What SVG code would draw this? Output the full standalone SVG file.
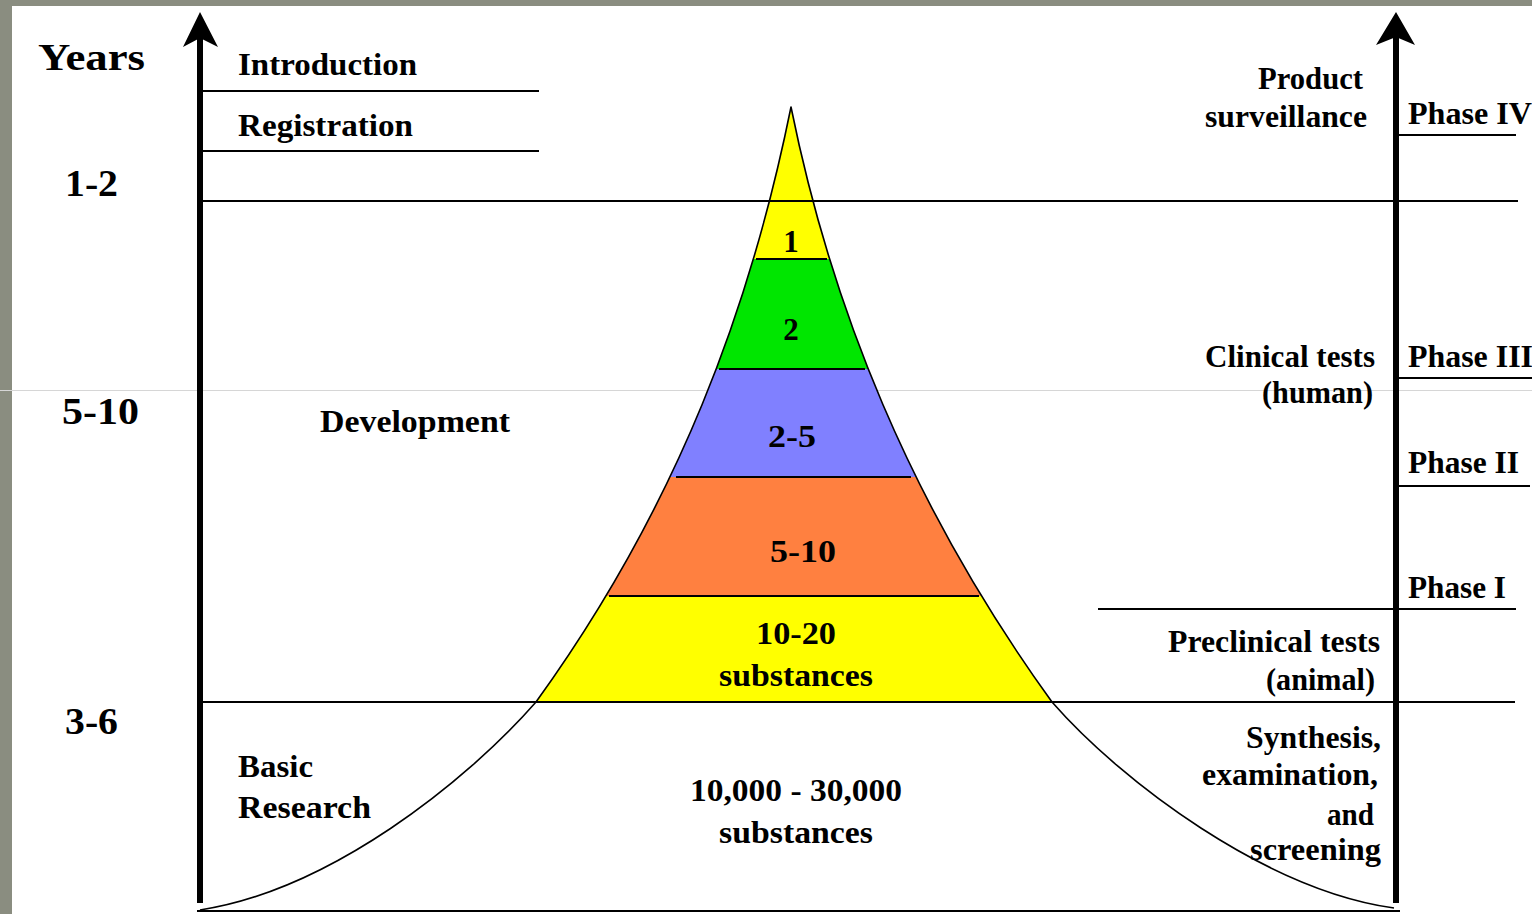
<svg xmlns="http://www.w3.org/2000/svg" width="1532" height="914" viewBox="0 0 1532 914">
  <defs>
    <style>
      .t { font-family: "Liberation Serif", "Times New Roman", serif; font-weight: bold; font-size: 31px; fill: #000; }
      .yr { font-size: 38px; }
      .end { text-anchor: end; }
      .mid { text-anchor: middle; }
      .rule { stroke: #000; stroke-width: 2; fill: none; }
      .band-edge { stroke: #000; stroke-width: 2; }
      .axis { stroke: #000; stroke-width: 6; fill: none; }
      .head { fill: #000; }
      .outline { fill: none; stroke: #000; stroke-width: 1.6; stroke-linejoin: round; }
    </style>
    <!-- upper part of the funnel, used to clip the coloured bands -->
    <clipPath id="funnel-clip">
      <path d="M791,107 C751,305 679,504 536,702 L1052,702 C909,504 831,305 791,107 Z"/>
    </clipPath>
  </defs>

  <!-- frame -->
  <rect x="0" y="0" width="1532" height="914" fill="#8a8d80"/>
  <rect x="12" y="6" width="1520" height="908" fill="#ffffff"/>
  <line x1="0" y1="390.5" x2="1532" y2="390.5" stroke="#d6d6d6" stroke-width="1"/>

  <!-- coloured stages of the funnel -->
  <g id="funnel">
    <g clip-path="url(#funnel-clip)">
      <rect x="500" y="100" width="600" height="159" fill="#ffff00"/>
      <rect x="500" y="259" width="600" height="110" fill="#00e600"/>
      <rect x="500" y="369" width="600" height="108" fill="#8080ff"/>
      <rect x="500" y="477" width="600" height="119" fill="#ff8040"/>
      <rect x="500" y="596" width="600" height="106" fill="#ffff00"/>
    </g>
    <line class="band-edge" x1="756" y1="259" x2="827" y2="259"/>
    <line class="band-edge" x1="719" y1="369" x2="865" y2="369"/>
    <line class="band-edge" x1="676" y1="477" x2="911" y2="477"/>
    <line class="band-edge" x1="609" y1="596" x2="979" y2="596"/>
    <path class="outline" d="M200,910 C330,890 466,782 536,702 C679,504 751,305 791,107 C831,305 909,504 1052,702 C1122,782 1266,890 1394,908"/>
  </g>

  <!-- horizontal rules -->
  <g id="rules">
    <line class="rule" x1="203" y1="91" x2="539" y2="91"/>
    <line class="rule" x1="203" y1="151" x2="539" y2="151"/>
    <line class="rule" x1="203" y1="201" x2="1518" y2="201"/>
    <line class="rule" x1="1398" y1="135" x2="1516" y2="135"/>
    <line class="rule" x1="1398" y1="378" x2="1532" y2="378"/>
    <line class="rule" x1="1398" y1="486" x2="1530" y2="486"/>
    <line class="rule" x1="1098" y1="609" x2="1516" y2="609"/>
    <line class="rule" x1="203" y1="702" x2="1515" y2="702"/>
    <line class="rule" x1="197" y1="911" x2="1400" y2="911"/>
  </g>

  <!-- time axes -->
  <g id="connectors">
    <line class="axis" x1="200" y1="30" x2="200" y2="903"/>
    <path class="head" d="M200,12 L218,47 L200,38 L183,47 Z"/>
    <line class="axis" x1="1396" y1="30" x2="1396" y2="903"/>
    <path class="head" d="M1396,12 L1415,45 L1396,37 L1376,45 Z"/>
  </g>

  <!-- year scale -->
  <g id="years">
    <text class="t yr" x="38" y="70" textLength="107" lengthAdjust="spacingAndGlyphs">Years</text>
    <text class="t yr" x="65" y="196" textLength="53" lengthAdjust="spacingAndGlyphs">1-2</text>
    <text class="t yr" x="62" y="424" textLength="77" lengthAdjust="spacingAndGlyphs">5-10</text>
    <text class="t yr" x="65" y="734" textLength="53" lengthAdjust="spacingAndGlyphs">3-6</text>
  </g>

  <!-- left side stages -->
  <g id="introduction"><text class="t" x="238" y="75" textLength="179" lengthAdjust="spacingAndGlyphs">Introduction</text></g>
  <g id="registration"><text class="t" x="238" y="136" textLength="175" lengthAdjust="spacingAndGlyphs">Registration</text></g>
  <g id="development"><text class="t" x="320" y="432" textLength="190" lengthAdjust="spacingAndGlyphs">Development</text></g>
  <g id="basic-research">
    <text class="t" x="238" y="777" textLength="75" lengthAdjust="spacingAndGlyphs">Basic</text>
    <text class="t" x="238" y="818" textLength="133" lengthAdjust="spacingAndGlyphs">Research</text>
  </g>

  <!-- substance counts inside the funnel -->
  <g id="count-1"><text class="t mid" x="791" y="252">1</text></g>
  <g id="count-2"><text class="t mid" x="791" y="340">2</text></g>
  <g id="count-2-5"><text class="t" x="768" y="447" textLength="48" lengthAdjust="spacingAndGlyphs">2-5</text></g>
  <g id="count-5-10"><text class="t" x="770" y="562" textLength="66" lengthAdjust="spacingAndGlyphs">5-10</text></g>
  <g id="count-10-20">
    <text class="t" x="756" y="644" textLength="80" lengthAdjust="spacingAndGlyphs">10-20</text>
    <text class="t" x="719" y="686" textLength="154" lengthAdjust="spacingAndGlyphs">substances</text>
  </g>
  <g id="count-10000">
    <text class="t" x="690" y="801" textLength="212" lengthAdjust="spacingAndGlyphs">10,000 - 30,000</text>
    <text class="t" x="719" y="843" textLength="154" lengthAdjust="spacingAndGlyphs">substances</text>
  </g>

  <!-- right side activities -->
  <g id="product-surveillance">
    <text class="t end" x="1363" y="89" textLength="105" lengthAdjust="spacingAndGlyphs">Product</text>
    <text class="t end" x="1367" y="127" textLength="162" lengthAdjust="spacingAndGlyphs">surveillance</text>
  </g>
  <g id="clinical-tests">
    <text class="t end" x="1375" y="367" textLength="170" lengthAdjust="spacingAndGlyphs">Clinical tests</text>
    <text class="t end" x="1373" y="403" textLength="111" lengthAdjust="spacingAndGlyphs">(human)</text>
  </g>
  <g id="preclinical-tests">
    <text class="t end" x="1380" y="652" textLength="212" lengthAdjust="spacingAndGlyphs">Preclinical tests</text>
    <text class="t end" x="1375" y="690" textLength="109" lengthAdjust="spacingAndGlyphs">(animal)</text>
  </g>
  <g id="synthesis">
    <text class="t end" x="1381" y="748" textLength="135" lengthAdjust="spacingAndGlyphs">Synthesis,</text>
    <text class="t end" x="1378" y="785" textLength="176" lengthAdjust="spacingAndGlyphs">examination,</text>
    <text class="t end" x="1374" y="825" textLength="47" lengthAdjust="spacingAndGlyphs">and</text>
    <text class="t end" x="1381" y="860" textLength="131" lengthAdjust="spacingAndGlyphs">screening</text>
  </g>

  <!-- phases -->
  <g id="phase-4"><text class="t" x="1408" y="124" textLength="124" lengthAdjust="spacingAndGlyphs">Phase IV</text></g>
  <g id="phase-3"><text class="t" x="1408" y="367" textLength="125" lengthAdjust="spacingAndGlyphs">Phase III</text></g>
  <g id="phase-2"><text class="t" x="1408" y="473" textLength="111" lengthAdjust="spacingAndGlyphs">Phase II</text></g>
  <g id="phase-1"><text class="t" x="1408" y="598" textLength="98" lengthAdjust="spacingAndGlyphs">Phase I</text></g>
</svg>
